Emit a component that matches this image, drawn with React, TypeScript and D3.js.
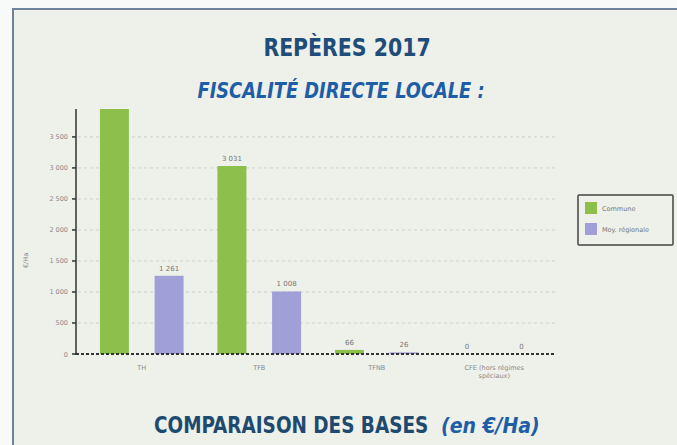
import React from "react";
import * as d3 from "d3";

const categories = ["TH", "TFB", "TFNB", "CFE (hors régimes spéciaux)"];
const seriesNames = ["Commune", "Moy. régionale"];
const commune = [3950, 3031, 66, 0];
const regionale = [1261, 1008, 26, 0];
const yTicks = [0, 500, 1000, 1500, 2000, 2500, 3000, 3500];
const colors = ["#8dc04a", "#a09fd8"];

const W = 677;
const H = 445;
const fmt = (v: number) => d3.format(",")(v).replace(/,/g, " ");
const titleFont = "'DejaVu Sans Condensed', 'DejaVu Sans', sans-serif";

const App = () => {
  const y = d3.scaleLinear().domain([0, d3.max(commune) as number]).range([354, 109]);
  const x = d3.scaleBand().domain(categories).range([83, 553]).padding(0);
  const xs = d3
    .scaleBand()
    .domain(seriesNames)
    .range([0, x.bandwidth()])
    .paddingInner(0.47)
    .paddingOuter(0.31);
  const values = [commune, regionale];

  return (
    <div style={{ position: "fixed", left: 0, top: 0 }}>
      <svg width={W} height={H} style={{ display: "block" }}>
        <rect x={0} y={0} width={W} height={H} fill="#f8faf9" />
        <rect x={13} y={9} width={W + 10} height={H + 10} fill="#eef0ea" stroke="#6c859c" strokeWidth={2} />
        <text transform="translate(347,56) scale(0.91,1)" textAnchor="middle" fontFamily={titleFont} fontWeight="bold" fontSize={25} fill="#1f4c78">
          REPÈRES 2017
        </text>
        <text transform="translate(341,98) scale(0.9,1)" textAnchor="middle" fontFamily={titleFont} fontWeight="bold" fontStyle="italic" fontSize={22} fill="#1d5ea6">
          FISCALITÉ DIRECTE LOCALE :
        </text>
        <text transform="translate(154,433) scale(0.89,1)" fontFamily={titleFont} fontWeight="bold" fontSize={23} fill="#1d4a6e">
          COMPARAISON DES BASES
        </text>
        <text x={441} y={433} fontFamily={titleFont} fontWeight="bold" fontStyle="italic" fontSize={21} fill="#1d5ea6">
          (en €/Ha)
        </text>

        {yTicks.slice(1).map((t) => (
          <line key={"g" + t} x1={78} x2={556} y1={y(t)} y2={y(t)} stroke="#cfd2cc" strokeDasharray="3,3" />
        ))}
        {yTicks.map((t) => (
          <g key={"t" + t}>
            <line x1={72} x2={76} y1={y(t)} y2={y(t)} stroke="#333" strokeWidth={1.5} />
            <text x={68} y={y(t) + 2.5} textAnchor="end" fontFamily="'DejaVu Sans', sans-serif" fontSize={6.5} fill="#888">
              {fmt(t)}
            </text>
          </g>
        ))}
        <text transform={`translate(28,${(y(0) + y(3500)) / 2 + 15}) rotate(-90)`} textAnchor="middle" fontFamily="'DejaVu Sans', sans-serif" fontSize={6.5} fill="#888">
          €/Ha
        </text>

        {categories.map((c, i) => (
          <g key={c} transform={`translate(${x(c)},0)`}>
            {values.map((vals, s) => {
              const bx = xs(seriesNames[s]) as number;
              const v = vals[i];
              return (
                <g key={s}>
                  <rect x={bx} y={y(v)} width={xs.bandwidth()} height={y(0) - y(v)} fill={colors[s]} />
                  {i > 0 || s > 0 ? (
                    <text x={bx + xs.bandwidth() / 2} y={y(v) - 5} textAnchor="middle" fontFamily="'DejaVu Sans', sans-serif" fontSize={7} fill="#777">
                      {fmt(v)}
                    </text>
                  ) : null}
                </g>
              );
            })}
            {(c.length > 10 ? ["CFE (hors régimes", "spéciaux)"] : [c]).map((l, k) => (
              <text key={k} x={x.bandwidth() / 2} y={370 + k * 8} textAnchor="middle" fontFamily="'DejaVu Sans', sans-serif" fontSize={6.5} fill="#888">
                {l}
              </text>
            ))}
          </g>
        ))}

        <line x1={76} x2={556} y1={y(0)} y2={y(0)} stroke="#333" strokeWidth={2} strokeDasharray="3,2" />
        <line x1={76} x2={76} y1={y(0) + 1} y2={109} stroke="#333" strokeWidth={1.5} />

        <rect x={578} y={195} width={95} height={50} fill="#eef0ea" stroke="#444" strokeWidth={1.5} rx={1} />
        {seriesNames.map((n, s) => (
          <g key={n} transform={`translate(585,${202 + s * 21})`}>
            <rect width={12} height={12} fill={colors[s]} />
            <text x={17} y={8.5} fontFamily="'DejaVu Sans', sans-serif" fontSize={6.5} fill="#777">
              {n}
            </text>
          </g>
        ))}
      </svg>
    </div>
  );
};

export default App;
